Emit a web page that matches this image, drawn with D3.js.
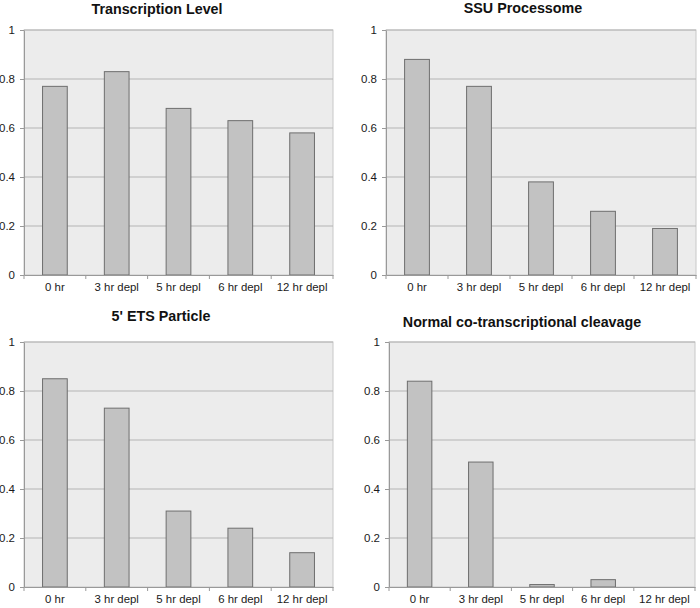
<!DOCTYPE html>
<html><head><meta charset="utf-8">
<script src="https://cdn.jsdelivr.net/npm/d3@7"></script>
<style>body{margin:0;background:#fff;font-family:"Liberation Sans",Arial,sans-serif;}</style>
</head><body><svg id="c" width="700" height="608"></svg>
<script>
const categories = ["0 hr","3 hr depl","5 hr depl","6 hr depl","12 hr depl"];
const titles = ["Transcription Level","SSU Processome","5' ETS Particle","Normal co-transcriptional cleavage"];
const transcriptionLevel = [0.77,0.83,0.68,0.63,0.58];
const ssuProcessome = [0.88,0.77,0.38,0.26,0.19];
const etsParticle = [0.85,0.73,0.31,0.24,0.14];
const coTranscriptional = [0.84,0.51,0.01,0.03,0.0];
const yTicks = [0,0.2,0.4,0.6,0.8,1];

const panels = [
  {title:titles[0], values:transcriptionLevel, x0:24, x1:333, y0:30, y1:275, ty:14, tx:157},
  {title:titles[1], values:ssuProcessome, x0:386, x1:696, y0:30, y1:275, ty:13, tx:523},
  {title:titles[2], values:etsParticle, x0:24, x1:333, y0:342, y1:587, ty:321, tx:161},
  {title:titles[3], values:coTranscriptional, x0:389, x1:695, y0:342, y1:587, ty:327, tx:522}
];
const svg = d3.select("#c");
panels.forEach(p => {
  const g = svg.append("g");
  const x = d3.scaleBand().domain(categories).range([p.x0,p.x1]).paddingInner(0.6).paddingOuter(0.3);
  const xb = d3.scaleBand().domain(categories).range([p.x0,p.x1]);
  const y = d3.scaleLinear().domain([0,1]).range([p.y1,p.y0]);
  g.append("rect").attr("x",p.x0).attr("y",p.y0).attr("width",p.x1-p.x0).attr("height",p.y1-p.y0)
    .attr("fill","#ececec").attr("stroke","#c8c8c8").attr("stroke-width",1);
  g.selectAll("line.grid").data(yTicks.slice(1)).join("line")
    .attr("x1",p.x0).attr("x2",p.x1).attr("y1",d=>y(d)).attr("y2",d=>y(d))
    .attr("stroke","#b4b4b4").attr("stroke-width",1);
  g.selectAll("rect.bar").data(p.values).join("rect").attr("class","bar")
    .attr("x",(d,i)=>x(categories[i])).attr("width",x.bandwidth())
    .attr("y",d=>y(d)).attr("height",d=>p.y1-y(d))
    .attr("fill","#c2c2c2").attr("stroke","#6e6e6e").attr("stroke-width",1)
    .attr("display",d=>d>0?null:"none");
  const ya = g.append("g").attr("transform",`translate(${p.x0},0)`)
    .call(d3.axisLeft(y).tickValues(yTicks).tickFormat(d=>d===0?"0":d===1?"1":d3.format(".1f")(d)).tickSize(4).tickSizeOuter(0));
  ya.select(".domain").attr("stroke","#999");
  ya.selectAll(".tick line").attr("stroke","#999");
  ya.selectAll(".tick text").attr("font-family","Liberation Sans, Arial, sans-serif").attr("font-size",11.5).attr("fill","#1a1a1a").attr("x",-9);
  const xa = g.append("g").attr("transform",`translate(0,${p.y1})`)
    .call(d3.axisBottom(xb).tickSize(0).tickSizeOuter(0));
  xa.select(".domain").attr("stroke","#999");
  xa.selectAll(".tick text").attr("font-family","Liberation Sans, Arial, sans-serif").attr("font-size",11.4).attr("fill","#1a1a1a").attr("dy","0.71em").attr("y",8);
  g.selectAll("line.sep").data(d3.range(categories.length+1)).join("line")
    .attr("x1",i=>p.x0+i*xb.step()).attr("x2",i=>p.x0+i*xb.step())
    .attr("y1",p.y1).attr("y2",p.y1+4).attr("stroke","#999");
  g.append("text").attr("x",p.tx).attr("y",p.ty).attr("text-anchor","middle")
    .attr("font-family","Liberation Sans, Arial, sans-serif").attr("font-weight","bold").attr("font-size",14.3).attr("fill","#111")
    .text(p.title);
});
</script></body></html>
